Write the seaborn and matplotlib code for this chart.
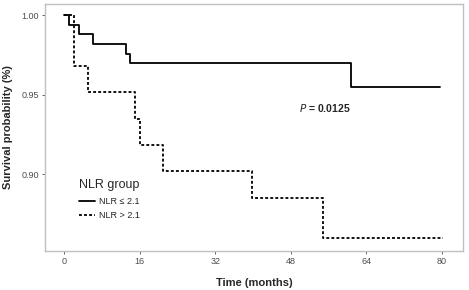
import numpy as np
import pandas as pd
import matplotlib
matplotlib.use("Agg")
import matplotlib.pyplot as plt
import seaborn as sns

# Kaplan-Meier step points (time in months, survival)
low_time = [0, 1, 3, 6, 13, 14, 60.7, 79.6]
low_surv = [1.000, 0.9937, 0.9879, 0.9820, 0.9759, 0.9697, 0.9550, 0.9550]
high_time = [0, 2, 5, 15, 16, 21, 39.8, 54.8, 80.3]
high_surv = [1.000, 0.9680, 0.9519, 0.9350, 0.9184, 0.9023, 0.8853, 0.8600, 0.8600]
groups = ["NLR ≤ 2.1", "NLR > 2.1"]
x_ticks = [0, 16, 32, 48, 64, 80]
y_ticks = [0.90, 0.95, 1.00]

df = pd.concat([
    pd.DataFrame({"time": low_time, "surv": low_surv, "group": groups[0]}),
    pd.DataFrame({"time": high_time, "surv": high_surv, "group": groups[1]}),
])

sns.set_style("white")
plt.rcParams["font.family"] = ["Liberation Sans", "DejaVu Sans"]

fig, ax = plt.subplots(figsize=(4.69, 2.90), dpi=100)
sns.lineplot(
    data=df, x="time", y="surv", style="group", hue="group",
    palette={groups[0]: "black", groups[1]: "black"},
    dashes={groups[0]: "", groups[1]: (1.6, 1.2)},
    estimator=None, sort=False, drawstyle="steps-post",
    linewidth=1.3, ax=ax,
)

ax.set_xlim(-4, 84.5)
ax.set_ylim(0.852, 1.007)
ax.set_xticks(x_ticks)
ax.set_yticks(y_ticks)
ax.set_yticklabels([f"{v:.2f}" for v in y_ticks])
ax.tick_params(axis="both", labelsize=6.5, colors="#4d4d4d", length=2.5,
               width=0.6, direction="out", bottom=True, left=True, pad=2)
for s in ax.spines.values():
    s.set_color("#c0c0c0")
    s.set_linewidth(1.0)

ax.set_xlabel("Time (months)", fontsize=8, fontweight="bold", labelpad=9)
ax.set_ylabel("Survival probability (%)", fontsize=8, fontweight="bold", labelpad=6)

ax.text(0.67, 0.58, r"$\bf{\it{P}}$" + " = 0.0125", transform=ax.transAxes,
        fontsize=7.5, fontweight="bold", ha="center", va="center")

leg = ax.legend(title="NLR group", loc="lower left", bbox_to_anchor=(0.06, 0.09),
                frameon=False, fontsize=6.5, title_fontsize=9,
                handlelength=1.8, handletextpad=0.4, labelspacing=0.6)
leg._legend_box.align = "left"

fig.subplots_adjust(left=0.097, right=0.987, top=0.986, bottom=0.136)
fig.savefig("out.png", dpi=100)
